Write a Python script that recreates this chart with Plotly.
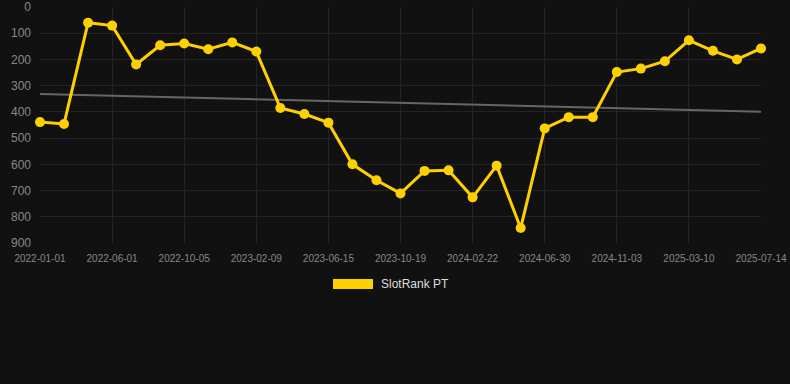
import plotly.graph_objects as go

dates = [
    "2022-01-01", "2022-02-20", "2022-04-11",
    "2022-06-01", "2022-07-13", "2022-08-24",
    "2022-10-05", "2022-11-16", "2022-12-28",
    "2023-02-09", "2023-03-23", "2023-05-04",
    "2023-06-15", "2023-07-27", "2023-09-07",
    "2023-10-19", "2023-11-30", "2024-01-11",
    "2024-02-22", "2024-04-04", "2024-05-17",
    "2024-06-30", "2024-08-11", "2024-09-22",
    "2024-11-03", "2024-12-15", "2025-01-27",
    "2025-03-10", "2025-04-21", "2025-06-02",
    "2025-07-14",
]
rank = [439, 446, 60, 71, 219, 146, 139, 161, 135, 170,
        385, 408, 441, 600, 661, 711, 625, 623, 726, 605,
        843, 463, 420, 420, 248, 235, 207, 127, 167, 200, 158]
trend = [332, 399]
tick_labels = dates[::3]
y_ticks = [0, 100, 200, 300, 400, 500, 600, 700, 800, 900]

BG = "#111111"
GOLD = "#FFD000"
FONT = "Liberation Sans, Arial, sans-serif"

fig = go.Figure()
fig.add_trace(go.Scatter(
    x=[dates[0], dates[-1]], y=trend, mode="lines",
    line=dict(color="#666666", width=2), showlegend=False, hoverinfo="skip",
))
fig.add_trace(go.Scatter(
    x=dates, y=rank, mode="lines+markers", name="SlotRank PT",
    line=dict(color=GOLD, width=3), marker=dict(color=GOLD, size=10),
    cliponaxis=False, showlegend=False,
))

L, R, T, B = 40, 29, 7, 141
W, H = 790, 384
pw, ph = W - L - R, H - T - B

def px(x):
    return (x - L) / pw

def py(y):
    return (H - B - y) / ph

fig.add_shape(type="rect", xref="paper", yref="paper",
              x0=px(333), x1=px(373), y0=py(289), y1=py(279),
              fillcolor=GOLD, line=dict(width=0))
fig.add_annotation(xref="paper", yref="paper", x=px(379), y=py(284),
                   text="SlotRank PT", showarrow=False, xanchor="left", yanchor="middle",
                   font=dict(family=FONT, size=12, color="#dddddd"))

fig.update_layout(
    width=W, height=H,
    margin=dict(l=L, r=R, t=T, b=B, autoexpand=False),
    paper_bgcolor=BG, plot_bgcolor=BG,
    font=dict(family=FONT, color="#888888"),
    showlegend=False,
    xaxis=dict(
        type="category", categoryorder="array", categoryarray=dates,
        range=[0, len(dates) - 1], automargin=False,
        tickvals=tick_labels, ticktext=tick_labels,
        showgrid=True, gridcolor="#232323", gridwidth=1,
        zeroline=False, showline=False, ticks="",
        ticklabelstandoff=8,
        tickfont=dict(size=10, color="#888888"),
    ),
    yaxis=dict(
        range=[900, 0], tickvals=y_ticks, automargin=False,
        showgrid=True, gridcolor="#232323", gridwidth=1,
        zeroline=False, showline=False, ticks="",
        ticklabelstandoff=8,
        tickfont=dict(size=12, color="#888888"),
    ),
)

fig.write_html("out.html", config={"displayModeBar": False},
               post_script="document.body.style.margin='0';")
